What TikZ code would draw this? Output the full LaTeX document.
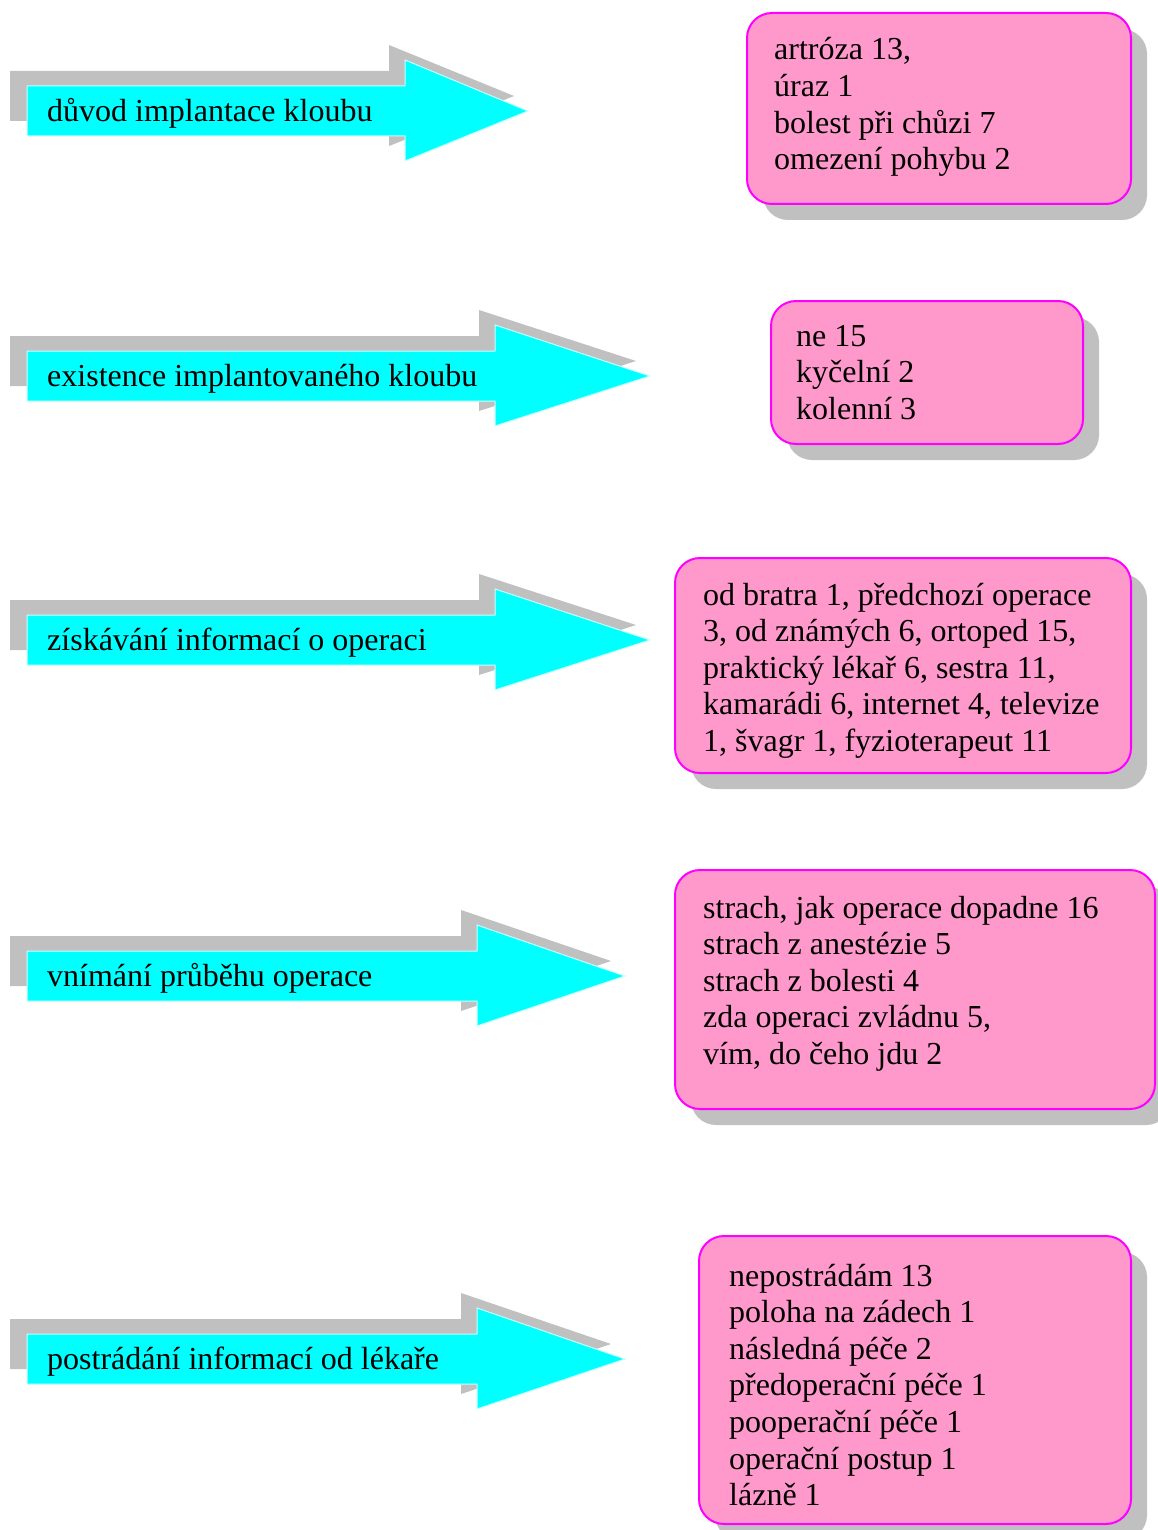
\documentclass[tikz,border=0pt]{standalone}
\usepackage{fontspec}
\setmainfont{Liberation Serif}
\definecolor{shadowgray}{RGB}{192,192,192}
\definecolor{arrowcyan}{RGB}{0,255,255}
\definecolor{boxpink}{RGB}{255,153,204}
\definecolor{boxmagenta}{RGB}{255,0,255}
\definecolor{edgecyan}{RGB}{200,255,255}
\tikzset{
  txt/.style={inner sep=0pt, font=\fontsize{32}{36.6}\selectfont, text=black},
  arrowshadow/.style={fill=shadowgray, draw=none},
  arrowbody/.style={fill=arrowcyan, draw=edgecyan, line width=1pt},
  boxshadow/.style={fill=shadowgray, draw=none, rounded corners=25pt},
  boxbody/.style={fill=boxpink, draw=boxmagenta, line width=2pt, rounded corners=25pt},
}
% #1 name, #2 head back x, #3 tip x, #4 centre y, #5 label
\newcommand\fatarrow[5]{%
  \fill[arrowshadow] (10,{#4-40}) -- ({#2-16},{#4-40}) -- ({#2-16},{#4-66}) --
    ({#3-14},{#4-15}) -- ({#2-16},{#4+35}) -- ({#2-16},{#4+10}) -- (10,{#4+10}) -- cycle;
  \filldraw[arrowbody] (27,{#4-25}) -- (#2,{#4-25}) -- (#2,{#4-51}) --
    (#3,#4) -- (#2,{#4+50}) -- (#2,{#4+25}) -- (27,{#4+25}) -- cycle;
  \node[txt, anchor=base west] (#1) at (47,{#4+10.5}) {#5};
}
% #1 name, #2 left, #3 top, #4 right, #5 bottom, #6 text x, #7 first baseline, #8 lines
\newcommand\infobox[8]{%
  \fill[boxshadow] ({#2+16},{#3+16}) rectangle ({#4+16},{#5+16});
  \filldraw[boxbody] (#2,#3) rectangle (#4,#5);
  \foreach \t [count=\i] in {#8} {
    \node[txt, anchor=base west] (#1-\i) at (#6,{#7+36.6*(\i-1)}) {\t};
  }
}
\begin{document}
\begin{tikzpicture}[x=1pt, y=-1pt]
\useasboundingbox (0,0) rectangle (1157,1530);
\fill[white] (0,0) rectangle (1157,1530);

\fatarrow{a1}{405}{528}{111}{důvod implantace kloubu}
\fatarrow{a2}{495}{650}{376}{existence implantovaného kloubu}
\fatarrow{a3}{495}{650}{640}{získávání informací o operaci}
\fatarrow{a4}{477}{625}{976}{vnímání průběhu operace}
\fatarrow{a5}{477}{625}{1359}{postrádání informací od lékaře}

\infobox{b1}{747}{13}{1131}{204}{774}{60}{{artróza 13,},{úraz 1},{bolest při chůzi 7},{omezení pohybu 2}}
\infobox{b2}{771}{301}{1083}{444}{796}{346}{{ne 15},{kyčelní 2},{kolenní 3}}
\infobox{b3}{675}{558}{1131}{773}{703}{605}{{od bratra 1, předchozí operace},{3, od známých 6, ortoped 15,},{praktický lékař 6, sestra 11,},{kamarádi 6, internet 4, televize},{1, švagr 1, fyzioterapeut 11}}
\infobox{b4}{675}{870}{1155}{1109}{703}{918}{{strach, jak operace dopadne 16},{strach z anestézie 5},{strach z bolesti 4},{zda operaci zvládnu 5,},{vím, do čeho jdu 2}}
\infobox{b5}{699}{1236}{1131}{1524}{729}{1286}{{nepostrádám 13},{poloha na zádech 1},{následná péče 2},{předoperační péče 1},{pooperační péče 1},{operační postup 1},{lázně 1}}
\end{tikzpicture}
\end{document}
